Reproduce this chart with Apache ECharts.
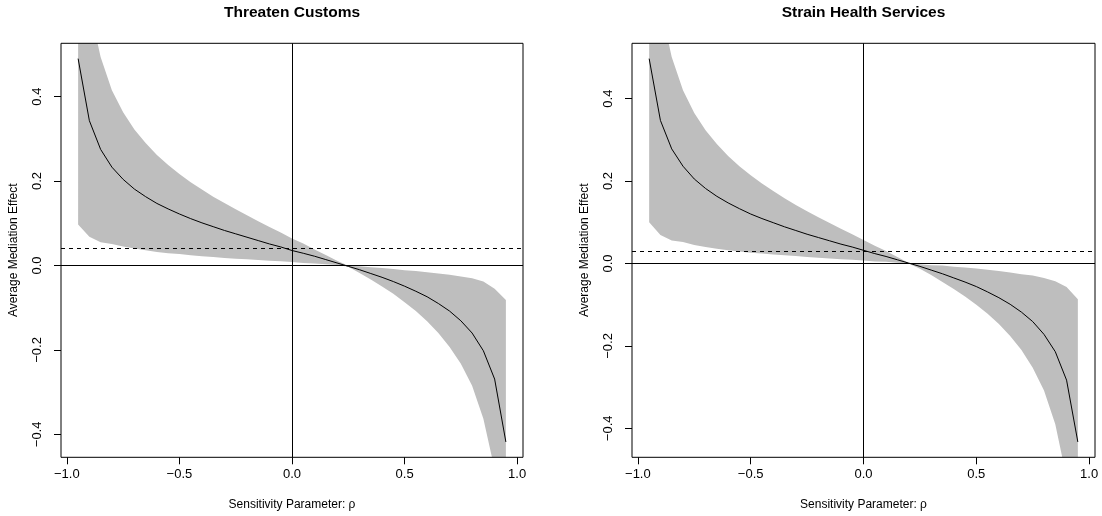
<!DOCTYPE html>
<html><head><meta charset="utf-8">
<script src="https://cdn.jsdelivr.net/npm/echarts@6/dist/echarts.min.js"></script>
<style>html,body{margin:0;padding:0;background:#fff}#c{width:1102px;height:516px}</style>
</head><body><div id="c"></div>
<script>
// Sensitivity parameter rho
const rho = [-0.95,-0.90,-0.85,-0.80,-0.75,-0.70,-0.65,-0.60,-0.55,-0.50,-0.45,-0.40,-0.35,-0.30,-0.25,-0.20,-0.15,-0.10,-0.05,0.00,
             0.05,0.10,0.15,0.20,0.25,0.30,0.35,0.40,0.45,0.50,0.55,0.60,0.65,0.70,0.75,0.80,0.85,0.90,0.95];

// Panel 1: Threaten Customs
const customsEst = [0.490,0.343,0.275,0.233,0.204,0.181,0.163,0.147,0.134,0.122,0.111,0.101,0.092,0.083,0.075,0.067,0.059,0.051,0.044,0.0355,
                    0.029,0.022,0.014,0.006,-0.002,-0.010,-0.019,-0.028,-0.038,-0.049,-0.061,-0.074,-0.090,-0.108,-0.131,-0.160,-0.202,-0.269,-0.418];
const customsLower = [0.097,0.068,0.055,0.051,0.045,0.040,0.036,0.032,0.029,0.027,0.024,0.022,0.020,0.018,0.016,0.015,0.013,0.011,0.010,0.008,
                      0.006,0.005,0.003,0.001,-0.003,-0.018,-0.033,-0.050,-0.067,-0.087,-0.108,-0.132,-0.160,-0.193,-0.233,-0.285,-0.363,-0.483,-0.745];
const customsUpper = [0.880,0.614,0.494,0.415,0.363,0.322,0.290,0.262,0.238,0.217,0.197,0.180,0.163,0.148,0.133,0.119,0.105,0.091,0.078,0.064,
                      0.052,0.038,0.025,0.011,-0.0005,-0.002,-0.004,-0.006,-0.008,-0.011,-0.013,-0.016,-0.019,-0.022,-0.026,-0.030,-0.038,-0.055,-0.082];

// Panel 2: Strain Health Services
const healthEst = [0.497,0.347,0.278,0.236,0.205,0.182,0.163,0.147,0.133,0.120,0.109,0.099,0.089,0.080,0.071,0.063,0.055,0.047,0.040,0.032,
                   0.024,0.017,0.009,0.001,-0.007,-0.016,-0.025,-0.035,-0.045,-0.056,-0.069,-0.083,-0.099,-0.118,-0.141,-0.172,-0.214,-0.283,-0.433];
const healthLower = [0.100,0.069,0.056,0.052,0.045,0.040,0.036,0.032,0.029,0.026,0.024,0.022,0.020,0.018,0.016,0.014,0.012,0.010,0.009,0.007,
                     0.005,0.004,0.002,0.0002,-0.013,-0.028,-0.045,-0.062,-0.080,-0.100,-0.122,-0.147,-0.176,-0.210,-0.253,-0.308,-0.390,-0.520,-0.779];
const healthUpper = [0.894,0.625,0.501,0.420,0.365,0.323,0.290,0.261,0.236,0.214,0.194,0.176,0.158,0.142,0.127,0.112,0.098,0.084,0.071,0.057,
                     0.043,0.030,0.016,0.0014,-0.0016,-0.004,-0.005,-0.008,-0.010,-0.012,-0.015,-0.018,-0.022,-0.026,-0.029,-0.035,-0.043,-0.057,-0.087];

const titles = ['Threaten Customs', 'Strain Health Services'];
const xTicks = [-1.0, -0.5, 0.0, 0.5, 1.0];
const yTicks = [-0.4, -0.2, 0.0, 0.2, 0.4];
const xName = 'Sensitivity Parameter: \u03c1';
const yName = 'Average Mediation Effect';

const FONT = '"Liberation Sans", Arial, Helvetica, sans-serif';
const fmt = v => (v < 0 ? '\u2212' : '') + Math.abs(v).toFixed(1);

const panels = [
  {left: 61, width: 462, est: customsEst, lower: customsLower, upper: customsUpper},
  {left: 632, width: 463, est: healthEst, lower: healthLower, upper: healthUpper}
];
const TOP = 43.3, HEIGHT = 414;

const xr = rho[rho.length - 1] - rho[0];
const xmin = rho[0] - 0.04 * xr, xmax = rho[rho.length - 1] + 0.04 * xr;

const option = {
  animation: false,
  backgroundColor: '#fff',
  title: [], grid: [], xAxis: [], yAxis: [], series: []
};

panels.forEach((p, i) => {
  const ymin0 = Math.min(...p.est), ymax0 = Math.max(...p.est);
  const yr = ymax0 - ymin0;
  const zeroIdx = rho.indexOf(0);
  const d0 = p.est[zeroIdx];
  option.title.push({
    text: titles[i], left: p.left + p.width / 2, top: 5, textAlign: 'center', padding: 0,
    textStyle: {fontFamily: FONT, fontSize: 15.5, fontWeight: 'bold', color: '#000'}
  });
  option.grid.push({left: p.left, top: TOP, width: p.width, height: HEIGHT, show: true,
    borderColor: '#000', borderWidth: 1, backgroundColor: 'transparent', containLabel: false, z: 5});
  option.xAxis.push({
    gridIndex: i, type: 'value', min: xmin, max: xmax,
    axisLine: {show: false, onZero: false}, splitLine: {show: false},
    axisTick: {show: true, length: 7, customValues: xTicks, lineStyle: {color: '#000', width: 1}},
    axisLabel: {customValues: xTicks, formatter: fmt, margin: 11, color: '#000', fontSize: 13, fontFamily: FONT},
    name: xName, nameLocation: 'middle', nameGap: 41,
    nameTextStyle: {fontSize: 12, fontFamily: FONT, color: '#000'}
  });
  option.yAxis.push({
    gridIndex: i, type: 'value', min: ymin0 - 0.04 * yr, max: ymax0 + 0.04 * yr,
    axisLine: {show: false, onZero: false}, splitLine: {show: false},
    axisTick: {show: true, length: 7, customValues: yTicks, lineStyle: {color: '#000', width: 1}},
    axisLabel: {customValues: yTicks, formatter: fmt, rotate: 90, margin: 17, color: '#000', fontSize: 13, fontFamily: FONT},
    name: yName, nameLocation: 'middle', nameGap: 41,
    nameTextStyle: {fontSize: 12, fontFamily: FONT, color: '#000'}
  });
  // confidence band polygon through the axes' scales, clipped to the plot box
  option.series.push({
    type: 'custom', xAxisIndex: i, yAxisIndex: i, silent: true, z: 1,
    data: rho.map((r, k) => [r, p.lower[k], p.upper[k]]),
    encode: {x: 0, y: [1, 2]},
    renderItem: (params, api) => {
      if (params.dataIndex !== 0) return null;
      const pts = [];
      for (let k = 0; k < rho.length; k++) pts.push(api.coord([rho[k], p.upper[k]]));
      for (let k = rho.length - 1; k >= 0; k--) pts.push(api.coord([rho[k], p.lower[k]]));
      const cs = params.coordSys;
      return {
        type: 'polygon', shape: {points: pts},
        style: {fill: '#BEBEBE', stroke: null},
        clipPath: {type: 'rect', shape: {x: cs.x, y: cs.y, width: cs.width, height: cs.height}}
      };
    }
  });
  option.series.push({
    type: 'line', xAxisIndex: i, yAxisIndex: i,
    data: rho.map((r, k) => [r, p.est[k]]), symbol: 'none', showSymbol: false,
    lineStyle: {color: '#000', width: 1}, silent: true, z: 3,
    markLine: {
      silent: true, symbol: ['none', 'none'], label: {show: false}, animation: false,
      lineStyle: {color: '#000', width: 1, type: 'solid'},
      emphasis: {disabled: true},
      data: [
        {xAxis: 0},
        {yAxis: 0},
        {yAxis: d0, lineStyle: {type: [4, 4], color: '#000', width: 1}}
      ]
    }
  });
});

const chart = echarts.init(document.getElementById('c'), null, {renderer: 'canvas'});
chart.setOption(option);
</script>
</body></html>
